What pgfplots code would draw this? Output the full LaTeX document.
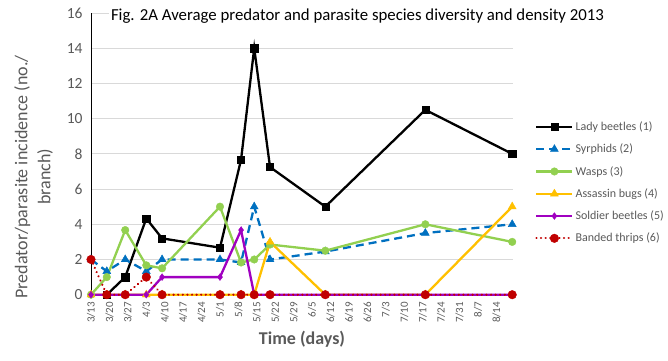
\documentclass[border=0pt]{standalone}
\usepackage{pgfplots}
\pgfplotsset{compat=1.18}
\usepackage{fontspec}
\setmainfont{Carlito}
\definecolor{cblue}{HTML}{0070C0}
\definecolor{cgreen}{HTML}{92D050}
\definecolor{cyellow}{HTML}{FFC000}
\definecolor{cpurple}{HTML}{A000C0}
\definecolor{cred}{HTML}{C00000}
\definecolor{tgray}{HTML}{595959}
\definecolor{ggray}{HTML}{D9D9D9}
\begin{document}
\begin{tikzpicture}
\useasboundingbox (0pt,0pt) rectangle (668pt,360pt);
\begin{axis}[
  at={(91pt,65.3pt)}, anchor=south west,
  scale only axis, width=422pt, height=281.7pt,
  xmin=0, xmax=160.3, ymin=0, ymax=16,
  axis line style={draw=none},
  ymajorgrids, grid style={ggray, line width=0.8pt},
  ytick={0,2,...,16},
  xtick={0,7,...,154},
  xticklabels={3/13,3/20,3/27,4/3,4/10,4/17,4/24,5/1,5/8,5/15,5/22,5/29,6/5,6/12,6/19,6/26,7/3,7/10,7/17,7/24,7/31,8/7,8/14},
  xticklabel style={rotate=90, anchor=east, font=\fontsize{11}{12}\selectfont, text=tgray, inner sep=1pt},
  xticklabel shift=5pt,
  yticklabel style={font=\fontsize{15.5}{17}\selectfont, text=tgray, xshift=-4pt},
  /pgf/number format/assume math mode=true,
  major tick length=0pt,
  xlabel={\textbf{Time (days)}},
  xlabel style={font=\fontsize{18}{21}\selectfont, text=tgray, yshift=-3pt},
  ylabel style={font=\fontsize{18}{23}\selectfont, text=tgray, align=center, xshift=-23pt},
  ylabel shift=6pt,
  ylabel={Predator/parasite incidence (no./\\branch)},
  legend style={at={(1.05,0.625)}, anchor=north west, draw=none, fill=none,
    font=\fontsize{12}{14}\selectfont, text=tgray, row sep=8pt, inner sep=0pt},
  legend cell align=left,
  legend image code/.code={\draw[mark repeat=2,mark phase=2] plot coordinates {(0pt,0pt)(18pt,0pt)(36pt,0pt)};},
  line width=2.3pt,
  clip=false,
]
\draw[black, line width=0.9pt] (rel axis cs:0,0) -- (rel axis cs:0,1);
\addplot[black, mark=square*, mark size=3.6pt, mark options={solid, line width=0.4pt}] coordinates {
(6,0)(13,1.0)(21,4.33)(27,3.2)(49,2.67)(57,7.67)(62,14)(68,7.25)(89,5)(127,10.5)(160,8)};
\addlegendentry{Lady beetles (1)}
\addplot[cblue, dash pattern=on 8pt off 5pt, mark=triangle*, mark size=4.6pt, mark options={solid, line width=0.4pt}] coordinates {
(0,2)(6,1.33)(13,2)(21,1.33)(27,2)(49,2)(57,1.83)(62,5)(68,2)(89,2.45)(127,3.5)(160,4)};
\addlegendentry{Syrphids (2)}
\addplot[cgreen, mark=*, mark size=3.8pt, mark options={line width=0.4pt}] coordinates {
(0,0)(6,1)(13,3.67)(21,1.67)(27,1.5)(49,5)(57,1.83)(62,2)(68,2.85)(89,2.5)(127,4)(160,3)};
\addlegendentry{Wasps (3)}
\addplot[cyellow, mark=triangle*, mark size=4.6pt, mark options={line width=0.4pt}] coordinates {
(0,0)(6,0)(13,0)(21,0)(27,0)(49,0)(57,0)(62,0)(68,3)(89,0)(127,0)(160,5)};
\addlegendentry{Assassin bugs (4)}
\addplot[cpurple, mark=diamond*, mark size=3.4pt, mark options={line width=0.4pt}] coordinates {
(0,0)(6,0)(13,0)(21,0)(27,1)(49,1)(57,3.67)(62,0)(68,0)(89,0)(127,0)(160,0)};
\addlegendentry{Soldier beetles (5)}
\addplot[cred, line width=2.3pt, line cap=round, dash pattern=on 0.1pt off 4.5pt, mark=*, mark size=4.3pt, mark options={solid, line width=0.4pt}] coordinates {
(0,2)(6,0)(13,0)(21,1)(27,0)(49,0)(57,0)(62,0)(68,0)(89,0)(127,0)(160,0)};
\addlegendentry{Banded thrips (6)}
\node[anchor=north west, fill=white, inner sep=2pt, font=\fontsize{16.8}{19}\selectfont, text=black] at (rel axis cs:0.04,1.025) {Fig. 2A Average predator and parasite species diversity and density 2013};
\end{axis}
\end{tikzpicture}
\end{document}
